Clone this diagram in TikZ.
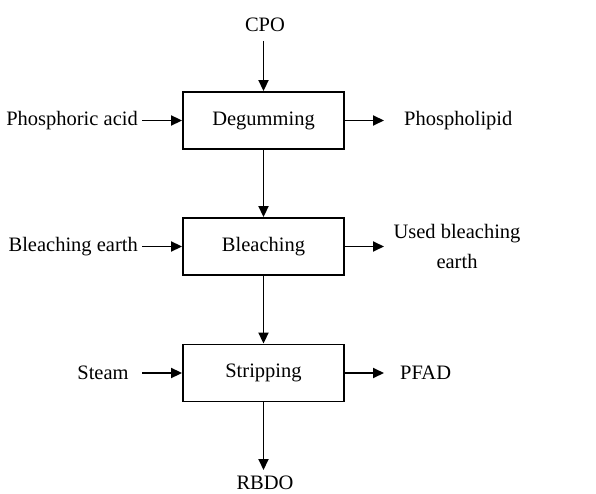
\documentclass[tikz,border=0pt]{standalone}
\usepackage{fontspec}
\setmainfont{Liberation Serif}
\usetikzlibrary{arrows.meta}
\begin{document}
\begin{tikzpicture}[x=1pt,y=-1pt,
  procbox/.style={draw, line width=1.9pt, minimum width=161pt, minimum height=57pt, inner sep=0pt, font=\fontsize{20.5}{30}\selectfont},
  lbl/.style={inner sep=0pt, font=\fontsize{20.5}{30}\selectfont},
  flow/.style={line width=1.9pt, -{Triangle[length=11pt,width=10pt]}}]
\useasboundingbox (0,0) rectangle (596,494);
\node[procbox] (deg) at (263.5,120.5) {Degumming};
\node[procbox] (ble) at (263.5,246.5) {Bleaching};
\node[procbox] (str) at (263.5,373) {Stripping};
\node[lbl, anchor=base] (cpo) at (265,32) {CPO};
\node[lbl, anchor=base] (rbdo) at (265,489) {RBDO};
\node[lbl, anchor=east] (pa) at (138,120.5) {Phosphoric acid};
\node[lbl, anchor=east] (be) at (138,246.5) {Bleaching earth};
\node[lbl] (steam) at (103,373) {Steam};
\node[lbl, anchor=west] (pl) at (404,120.5) {Phospholipid};
\node[lbl, align=center] (ube) at (457,246.5) {Used bleaching\\earth};
\node[lbl, anchor=west] (pfad) at (400,373) {PFAD};
\coordinate (cpoE) at (263.5,41);
\coordinate (rbdoE) at (263.5,470);
\coordinate (paS) at (142,120.5);
\coordinate (beS) at (142,246.5);
\coordinate (stS) at (142,373);
\coordinate (plE) at (384,120.5);
\coordinate (ubeE) at (384,246.5);
\coordinate (pfE) at (384,373);
\draw[flow] (cpoE) -- (deg.north);
\draw[flow] (deg.south) -- (ble.north);
\draw[flow] (ble.south) -- (str.north);
\draw[flow] (str.south) -- (rbdoE);
\draw[flow] (paS) -- (deg.west);
\draw[flow] (beS) -- (ble.west);
\draw[flow] (stS) -- (str.west);
\draw[flow] (deg.east) -- (plE);
\draw[flow] (ble.east) -- (ubeE);
\draw[flow] (str.east) -- (pfE);
\end{tikzpicture}
\end{document}
